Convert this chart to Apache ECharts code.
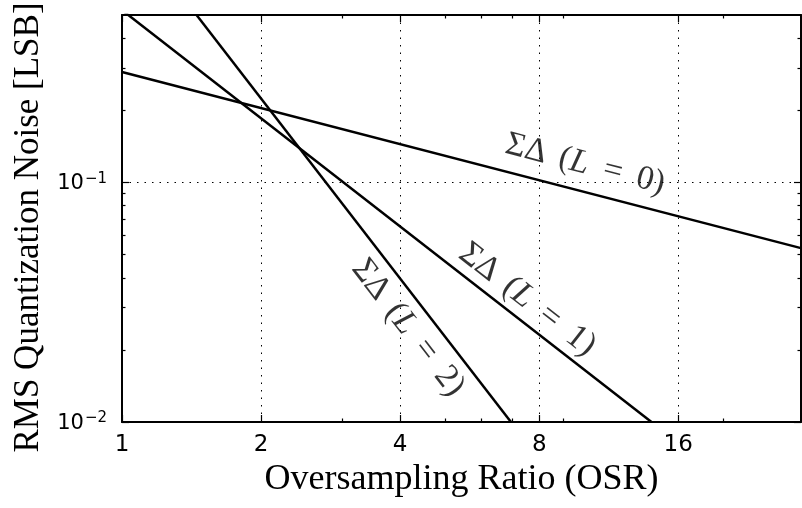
<!DOCTYPE html>
<html><head><meta charset="utf-8">
<script src="https://cdn.jsdelivr.net/npm/echarts@6/dist/echarts.min.js"></script>
<style>html,body{margin:0;padding:0;background:#fff}#c{width:802px;height:508px}</style>
</head><body><div id="c"></div><script>
// ---- data ----
const xMajorTicks = [1, 2, 4, 8, 16];
const xMinorTicks = [3, 5, 6, 7, 9, 20];
const yMajorTicks = [0.01, 0.1];
const yMinorTicks = [0.02, 0.03, 0.04, 0.05, 0.06, 0.07, 0.08, 0.09, 0.2, 0.3, 0.4];
const xRange = [1, 29.5];
const yRange = [0.01, 0.5];
const osrL0 = [1, 29.5];
const noiseL0 = [0.289, 0.0532];
const osrL1 = [1, 14];
const noiseL1 = [0.524, 0.01];
const osrL2 = [1.45, 6.95];
const noiseL2 = [0.5, 0.01];
const orderNames = ['0', '1', '2'];
const labelOsr = [10.06, 7.54, 4.16];
const labelNoise = [0.119, 0.0324, 0.0247];
const labelAngles = [-14.5, -37.8, -52.3];
const xName = 'Oversampling Ratio (OSR)';
const yName = 'RMS Quantization Noise [LSB]';

const BLACK = '#000';
const serif = 'Liberation Serif';
function pairs(xs, ys) { return xs.map((x, i) => [x, ys[i]]); }

function xAxisDef(pos, ticks, len, opts) {
  return Object.assign({
    type: 'log', logBase: 2, min: xRange[0], max: xRange[1], position: pos, gridIndex: 0,
    axisLine: { show: false },
    axisTick: { show: true, inside: true, length: len, customValues: ticks, lineStyle: { color: BLACK, width: 1.2 } },
    axisLabel: { show: false },
    splitLine: { show: false }
  }, opts || {});
}
function yAxisDef(pos, ticks, len, opts) {
  return Object.assign({
    type: 'log', logBase: 10, min: yRange[0], max: yRange[1], position: pos, gridIndex: 0,
    axisLine: { show: false },
    axisTick: { show: true, inside: true, length: len, customValues: ticks, lineStyle: { color: BLACK, width: 1.2 } },
    axisLabel: { show: false },
    splitLine: { show: false }
  }, opts || {});
}
const spine = { show: true, onZero: false, lineStyle: { color: BLACK, width: 2 } };
const gridDots = { show: true, lineStyle: { color: BLACK, width: 1, type: [1.5, 6] } };

const chart = echarts.init(document.getElementById('c'), null, { renderer: 'canvas' });
chart.setOption({
  animation: false,
  backgroundColor: '#fff',
  grid: { left: 122, right: 1, top: 15, bottom: 86, containLabel: false, outerBoundsMode: 'none' },
  xAxis: [
    xAxisDef('bottom', xMajorTicks, 7, {
      axisLine: spine,
      axisLabel: { show: true, customValues: xMajorTicks, formatter: v => String(Math.round(v)),
        fontFamily: 'DejaVu Sans', fontSize: 23, color: BLACK, margin: 12 },
      splitLine: gridDots,
      name: xName, nameLocation: 'middle', nameGap: 38,
      nameTextStyle: { fontFamily: serif, fontSize: 36, color: BLACK, verticalAlign: 'top' }
    }),
    xAxisDef('bottom', xMinorTicks, 3.5),
    xAxisDef('top', xMajorTicks, 7, { axisLine: spine }),
    xAxisDef('top', xMinorTicks, 3.5)
  ],
  yAxis: [
    yAxisDef('left', yMajorTicks, 7, {
      axisLine: spine,
      axisLabel: { show: true, customValues: yMajorTicks,
        formatter: v => '{b|10}{s|\u2212' + Math.round(-Math.log10(v)) + '}',
        margin: 15, color: BLACK,
        rich: {
          b: { fontFamily: 'DejaVu Sans', fontSize: 21, color: BLACK, verticalAlign: 'bottom', lineHeight: 24 },
          s: { fontFamily: 'DejaVu Sans', fontSize: 15, color: BLACK, verticalAlign: 'bottom', lineHeight: 24, padding: [0, 0, 8, 1] }
        } },
      splitLine: gridDots,
      name: yName, nameLocation: 'middle', nameGap: 72,
      nameTextStyle: { fontFamily: serif, fontSize: 35, color: BLACK, padding: [0, 18, 0, 0] }
    }),
    yAxisDef('left', yMinorTicks, 3.5),
    yAxisDef('right', yMajorTicks, 7, { axisLine: spine }),
    yAxisDef('right', yMinorTicks, 3.5)
  ],
  series: [
    { type: 'line', name: 'L=0', data: pairs(osrL0, noiseL0), showSymbol: false, symbol: 'none', clip: true,
      lineStyle: { color: BLACK, width: 2.5 }, xAxisIndex: 0, yAxisIndex: 0, z: 3 },
    { type: 'line', name: 'L=1', data: pairs(osrL1, noiseL1), showSymbol: false, symbol: 'none', clip: true,
      lineStyle: { color: BLACK, width: 2.5 }, xAxisIndex: 0, yAxisIndex: 0, z: 3 },
    { type: 'line', name: 'L=2', data: pairs(osrL2, noiseL2), showSymbol: false, symbol: 'none', clip: true,
      lineStyle: { color: BLACK, width: 2.5 }, xAxisIndex: 0, yAxisIndex: 0, z: 3 },
    { type: 'scatter', xAxisIndex: 0, yAxisIndex: 0, symbolSize: 0, silent: true, z: 4,
      data: labelOsr.map((x, i) => ({
        value: [x, labelNoise[i]],
        label: {
          show: true, position: 'inside', rotate: labelAngles[i],
          formatter: '{u|\u03A3\u0394}    {u|(}{i|L}{u| \u2009=\u2009 ' + orderNames[i] + ')}',
          rich: {
            u: { fontFamily: serif, fontSize: 34, color: BLACK },
            i: { fontFamily: serif, fontSize: 34, fontStyle: 'italic', color: BLACK }
          }
        }
      }))
    }
  ]
});
</script></body></html>
